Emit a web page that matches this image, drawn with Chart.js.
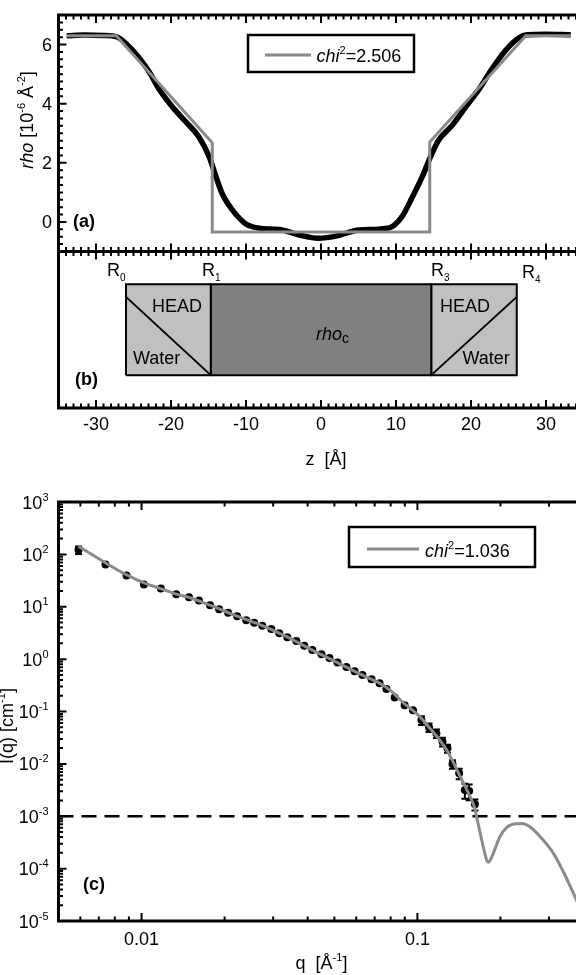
<!DOCTYPE html>
<html>
<head>
<meta charset="utf-8">
<script src="https://cdn.jsdelivr.net/npm/chart.js@4.4.0/dist/chart.umd.min.js"></script>
<style>
  html, body { margin: 0; padding: 0; background: #fff; overflow: hidden; }
  #wrap { position: relative; width: 576px; height: 975px; overflow: hidden; }
  canvas { position: absolute; left: 0; }
  #cA { top: 0; }
  #cB { top: 240px; }
  #cC { top: 480px; }
</style>
</head>
<body>
<div id="wrap">
  <canvas id="cA" width="600" height="262"></canvas>
  <canvas id="cB" width="600" height="240"></canvas>
  <canvas id="cC" width="600" height="495"></canvas>
</div>
<script>
(function() {
  'use strict';

  // (a) measured density profile
  var profileZ = [-33.9, -31.5, -29.0, -27.3, -25.1, -22.9, -21.6, -19.8, -18.0, -16.3, -14.9, -14.0,
    -13.2, -11.8, -10.0, -8.3, -5.2, -2.9, -0.3, 2.0, 5.1, 9.1, 10.8, 12.2, 13.5, 14.6, 15.7, 17.5,
    19.3, 21.1, 22.8, 24.6, 26.4, 27.5, 30.0, 33.3];
  var profileRho = [6.30, 6.32, 6.31, 6.27, 5.80, 5.07, 4.50, 3.89, 3.38, 2.88, 2.20, 1.53,
    0.97, 0.40, -0.07, -0.21, -0.27, -0.44, -0.55, -0.48, -0.27, -0.20, 0.18, 0.85, 1.53, 2.20, 2.77, 3.27,
    3.89, 4.50, 5.18, 5.80, 6.23, 6.33, 6.35, 6.33];

  // (a) step model, chi2 = 2.506
  var modelZ = [-33.9, -27.3, -14.5, -14.5, 14.5, 14.5, 27.3, 33.3];
  var modelRho = [6.3, 6.3, 2.68, -0.34, -0.34, 2.7, 6.3, 6.3];

  // (b) layer boundaries R0, R1, R3, R4
  var layerEdges = [-26.0, -14.7, 14.7, 26.1];
  var boxBottom = 2.1, boxTop = 7.9, slopeTop = 7.1;

  // (c) scattering data
  var qData = [0.00591, 0.0074, 0.00882, 0.0102, 0.01175, 0.01336, 0.01486, 0.01615, 0.01771, 0.0191,
    0.0206, 0.0222, 0.02395, 0.0256, 0.0274, 0.02953, 0.03156, 0.03376, 0.0364, 0.0389, 0.0416, 0.0449,
    0.048, 0.0513, 0.0553, 0.0592, 0.0632, 0.0682, 0.0729, 0.0772, 0.0827, 0.0899, 0.0964, 0.1034,
    0.1102, 0.1172, 0.1233, 0.1285, 0.134, 0.1417, 0.1486, 0.154, 0.1616];
  var iData = [122, 64, 39.6, 26.7, 22.4, 17.4, 15.2, 13.1, 10.7, 9.0,
    7.7, 6.6, 5.55, 4.97, 4.36, 3.74, 3.13, 2.63, 2.21, 1.81, 1.49, 1.245,
    1.045, 0.858, 0.704, 0.59, 0.495, 0.415, 0.348, 0.268, 0.186, 0.132, 0.106, 0.0685,
    0.0497, 0.0382, 0.0264, 0.0198, 0.0099, 0.0066, 0.00316, 0.00303, 0.00169];
  var iErr = [20, 0, 0, 0, 0, 0, 0, 0, 0, 0,
    0, 0, 0, 0, 0, 0, 0, 0, 0, 0, 0, 0,
    0, 0, 0, 0, 0, 0, 0, 0, 0, 0, 0, 0.013,
    0.009, 0.007, 0.005, 0.0035, 0.0018, 0.0015, 0.001, 0.001, 0.0004];

  // (c) model curve, chi2 = 1.036
  var qFit = [0.0059, 0.0074, 0.0088, 0.0102, 0.0118, 0.0134, 0.0149, 0.0177, 0.0222, 0.0274, 0.0338,
    0.0416, 0.0513, 0.0632, 0.0729, 0.0795, 0.0899, 0.0964, 0.1034, 0.1102, 0.1172, 0.1233, 0.1285,
    0.134, 0.1417, 0.1486, 0.1556, 0.1616, 0.1638, 0.1733, 0.1782, 0.1807, 0.1884, 0.199, 0.2109,
    0.2228, 0.2388, 0.2559, 0.2786, 0.3112, 0.3381, 0.3762, 0.40];
  var iFit = [143, 69, 41, 28.6, 22, 17.4, 15, 10.7, 6.6, 4.36, 2.63,
    1.49, 0.86, 0.495, 0.348, 0.256, 0.14, 0.104, 0.074, 0.05, 0.034, 0.024, 0.0175,
    0.0115, 0.0063, 0.0038, 0.0023, 0.0014, 0.001, 2.6e-4, 1.46e-4, 1.32e-4, 1.96e-4, 4.06e-4, 6.14e-4,
    7.1e-4, 7.3e-4, 6.3e-4, 4.06e-4, 1.96e-4, 8.7e-5, 2.6e-5, 1.3e-5];
  var cutoff = 1e-3;

  // tick labels
  var zTicks = [-30, -20, -10, 0, 10, 20, 30];
  var rhoTicks = [0, 2, 4, 6];
  var qTicks = [0.01, 0.1];
  var qTickText = ['0.01', '0.1'];
  var iExponents = [3, 2, 1, 0, -1, -2, -3, -4, -5];

  var FONT = '"Liberation Sans", Arial, Helvetica, sans-serif';
  var GREY = '#8a8a8a';

  function pairs(xs, ys) {
    return xs.map(function(x, i) { return { x: x, y: ys[i] }; });
  }

  function fontFor(kind) {
    if (kind === 'i') return 'italic 18px ' + FONT;
    if (kind === 'b') return 'bold 18px ' + FONT;
    if (kind === 'sup') return '11px ' + FONT;
    if (kind === 'sub') return '10px ' + FONT;
    if (kind === 'subc') return '14px ' + FONT;
    return '18px ' + FONT;
  }

  // parts: [[text, kind], ...]
  function drawRich(ctx, parts, x, y, align) {
    var widths = [], total = 0;
    parts.forEach(function(p) {
      ctx.font = fontFor(p[1]);
      var w = ctx.measureText(p[0]).width;
      widths.push(w);
      total += w;
    });
    var cx = align === 'center' ? x - total / 2 : (align === 'right' ? x - total : x);
    ctx.textAlign = 'left';
    ctx.textBaseline = 'alphabetic';
    parts.forEach(function(p, i) {
      ctx.font = fontFor(p[1]);
      var dy = 0;
      if (p[1] === 'sup') dy = -8;
      if (p[1] === 'sub') dy = 5;
      if (p[1] === 'subc') dy = 3;
      ctx.fillText(p[0], cx, y + dy);
      cx += widths[i];
    });
  }

  function drawTicks(ctx, a, scale, values, len, sides) {
    ctx.beginPath();
    values.forEach(function(v) {
      var p = scale.getPixelForValue(v);
      sides.forEach(function(s) {
        if (s === 'top') { ctx.moveTo(p, a.top); ctx.lineTo(p, a.top + len); }
        if (s === 'bottom') { ctx.moveTo(p, a.bottom); ctx.lineTo(p, a.bottom - len); }
        if (s === 'left') { ctx.moveTo(a.left, p); ctx.lineTo(a.left + len, p); }
      });
    });
    ctx.stroke();
  }

  function stepValues(min, max, step, skip) {
    var out = [];
    for (var v = min; v <= max + 1e-9; v += step) {
      var r = Math.round(v * 1000) / 1000;
      if (skip.indexOf(r) < 0) out.push(r);
    }
    return out;
  }

  function drawLegend(ctx, lg, off) {
    ctx.fillStyle = '#fff';
    ctx.fillRect(lg.box[0], lg.box[1] - off, lg.box[2], lg.box[3]);
    ctx.strokeStyle = '#000';
    ctx.lineWidth = 2.5;
    ctx.strokeRect(lg.box[0], lg.box[1] - off, lg.box[2], lg.box[3]);
    ctx.strokeStyle = GREY;
    ctx.lineWidth = 3;
    ctx.beginPath();
    ctx.moveTo(lg.line[0], lg.line[2] - off);
    ctx.lineTo(lg.line[1], lg.line[2] - off);
    ctx.stroke();
    ctx.fillStyle = '#000';
    drawRich(ctx, [['chi', 'i'], ['2', 'sup'], [lg.value, '']], lg.text[0], lg.text[1] - off, 'left');
  }

  function panelPlugin(cfg) {
    return {
      id: 'panel',
      afterDraw: function(chart) {
        var ctx = chart.ctx, a = chart.chartArea, xs = chart.scales.x, ys = chart.scales.y;
        var off = cfg.offsetY;
        ctx.save();
        ctx.strokeStyle = '#000';
        ctx.fillStyle = '#000';
        ctx.setLineDash([]);

        // inward tick marks
        ctx.lineWidth = 2;
        if (cfg.xTicks) {
          drawTicks(ctx, a, xs, cfg.xTicks.major, 8, cfg.xTicks.sides);
          drawTicks(ctx, a, xs, cfg.xTicks.minor, 4.5, cfg.xTicks.sides);
        }
        if (cfg.yTicks) {
          drawTicks(ctx, a, ys, cfg.yTicks.major, 8, cfg.yTicks.sides);
          drawTicks(ctx, a, ys, cfg.yTicks.minor, 4.5, cfg.yTicks.sides);
        }

        // frame
        ctx.lineWidth = 3;
        ctx.strokeRect(a.left, a.top, a.right - a.left, a.bottom - a.top);

        // tick labels
        if (cfg.xLabels) {
          ctx.font = fontFor('');
          ctx.textAlign = 'center';
          ctx.textBaseline = 'alphabetic';
          cfg.xLabels.values.forEach(function(v, i) {
            ctx.fillText(cfg.xLabels.text[i], xs.getPixelForValue(v), cfg.xLabels.y - off);
          });
        }
        if (cfg.yLabels) {
          ctx.font = fontFor('');
          ctx.textAlign = 'right';
          ctx.textBaseline = 'alphabetic';
          cfg.yLabels.values.forEach(function(v) {
            ctx.fillText(String(v), cfg.yLabels.right, ys.getPixelForValue(v) + 6.5);
          });
        }
        if (cfg.yLogLabels) {
          cfg.yLogLabels.exps.forEach(function(e) {
            drawRich(ctx, [['10', ''], [String(e), 'sup']], cfg.yLogLabels.right,
              ys.getPixelForValue(Math.pow(10, e)) + 6.5, 'right');
          });
        }

        // axis titles
        if (cfg.xTitle) {
          drawRich(ctx, cfg.xTitle.parts, cfg.xTitle.x, cfg.xTitle.y - off, 'center');
        }
        if (cfg.yTitle) {
          ctx.save();
          ctx.translate(cfg.yTitle.x, cfg.yTitle.y - off);
          ctx.rotate(-Math.PI / 2);
          drawRich(ctx, cfg.yTitle.parts, 0, 0, 'center');
          ctx.restore();
        }

        if (cfg.legend) drawLegend(ctx, cfg.legend, off);

        if (cfg.tag) {
          drawRich(ctx, [[cfg.tag.text, 'b']], cfg.tag.x, cfg.tag.y - off, 'left');
        }

        if (cfg.notes) {
          cfg.notes.forEach(function(n) {
            drawRich(ctx, n.parts, n.x, n.y - off, 'left');
          });
        }
        ctx.restore();
      }
    };
  }

  function chartOptions(xScale, yScale, pad) {
    return {
      responsive: false,
      animation: false,
      events: [],
      layout: { padding: pad },
      plugins: { legend: { display: false }, tooltip: { enabled: false } },
      scales: {
        x: Object.assign({ display: false }, xScale),
        y: Object.assign({ display: false }, yScale)
      }
    };
  }

  var zMinor = stepValues(-35, 35, 1, zTicks);

  // ---- panel (a)
  new Chart(document.getElementById('cA'), {
    type: 'scatter',
    data: {
      datasets: [{
        data: pairs(modelZ, modelRho),
        showLine: true,
        borderColor: GREY,
        borderWidth: 3,
        pointRadius: 0,
        order: 0
      }, {
        data: pairs(profileZ, profileRho),
        showLine: true,
        borderColor: '#000',
        borderWidth: 5.5,
        pointRadius: 0,
        cubicInterpolationMode: 'monotone',
        order: 1
      }]
    },
    options: chartOptions(
      { type: 'linear', min: -35, max: 35 },
      { type: 'linear', min: -1, max: 7 },
      { top: 15, left: 58.5, right: 16.5, bottom: 10.5 }
    ),
    plugins: [panelPlugin({
      offsetY: 0,
      xTicks: { major: zTicks, minor: zMinor, sides: ['top', 'bottom'] },
      yTicks: { major: rhoTicks, minor: stepValues(-1, 7, 0.25, rhoTicks), sides: ['left'] },
      yLabels: { values: rhoTicks, right: 52 },
      yTitle: { x: 33, y: 120, parts: [['rho', 'i'], [' [10', ''], ['-6', 'sup'], [' \u00c5', ''], ['-2', 'sup'], [']', '']] },
      legend: { box: [248, 35, 166, 37], line: [265, 311, 55], text: [316.5, 61.5], value: '=2.506' },
      tag: { text: '(a)', x: 73, y: 227 }
    })]
  });

  // ---- panel (b)
  function boxShape(z0, z1) {
    return [{ x: z0, y: boxBottom }, { x: z0, y: boxTop }, { x: z1, y: boxTop },
      { x: z1, y: boxBottom }, { x: z0, y: boxBottom }];
  }
  function boxSet(z0, z1, color) {
    return {
      data: boxShape(z0, z1), showLine: true, fill: 'shape', backgroundColor: color,
      borderColor: '#000', borderWidth: 2, pointRadius: 0, order: 1
    };
  }
  function edgeSet(points) {
    return { data: points, showLine: true, borderColor: '#000', borderWidth: 2, pointRadius: 0, order: 0 };
  }

  new Chart(document.getElementById('cB'), {
    type: 'scatter',
    data: {
      datasets: [
        boxSet(layerEdges[0], layerEdges[1], '#c0c0c0'),
        boxSet(layerEdges[1], layerEdges[2], '#808080'),
        boxSet(layerEdges[2], layerEdges[3], '#c0c0c0'),
        edgeSet([{ x: layerEdges[0], y: slopeTop }, { x: layerEdges[1], y: boxBottom }]),
        edgeSet([{ x: layerEdges[2], y: boxBottom }, { x: layerEdges[3], y: slopeTop }])
      ]
    },
    options: chartOptions(
      { type: 'linear', min: -35, max: 35 },
      { type: 'linear', min: 0, max: 10 },
      { top: 11.5, left: 58.5, right: 16.5, bottom: 72 }
    ),
    plugins: [panelPlugin({
      offsetY: 240,
      xTicks: { major: zTicks, minor: zMinor, sides: ['top', 'bottom'] },
      xLabels: { values: zTicks, text: zTicks.map(String), y: 429.5 },
      xTitle: { x: 326, y: 465, parts: [['z  [\u00c5]', '']] },
      tag: { text: '(b)', x: 75, y: 385 },
      notes: [
        { x: 107, y: 276, parts: [['R', ''], ['0', 'sub']] },
        { x: 202, y: 276, parts: [['R', ''], ['1', 'sub']] },
        { x: 431, y: 276, parts: [['R', ''], ['3', 'sub']] },
        { x: 522, y: 278, parts: [['R', ''], ['4', 'sub']] },
        { x: 152, y: 311.5, parts: [['HEAD', '']] },
        { x: 133, y: 364, parts: [['Water', '']] },
        { x: 316, y: 340, parts: [['rho', 'i'], ['c', 'subc']] },
        { x: 440, y: 311.5, parts: [['HEAD', '']] },
        { x: 462.5, y: 364, parts: [['Water', '']] }
      ]
    })]
  });

  // ---- panel (c)
  var qMinor = [0.006, 0.007, 0.008, 0.009, 0.02, 0.03, 0.04, 0.05, 0.06, 0.07, 0.08, 0.09, 0.2, 0.3];
  var iMajor = iExponents.map(function(e) { return Math.pow(10, e); });
  var iMinor = [];
  for (var e = -5; e <= 2; e++) {
    for (var m = 2; m <= 9; m++) iMinor.push(m * Math.pow(10, e));
  }

  var errorBars = {
    id: 'errorBars',
    afterDatasetDraw: function(chart, args) {
      if (args.index !== 1) return;
      var ctx = chart.ctx, xs = chart.scales.x, ys = chart.scales.y;
      ctx.save();
      ctx.strokeStyle = '#000';
      ctx.lineWidth = 2;
      qData.forEach(function(q, i) {
        var err = iErr[i];
        if (!err) return;
        var px = xs.getPixelForValue(q);
        var hi = ys.getPixelForValue(iData[i] + err);
        var lo = ys.getPixelForValue(Math.max(iData[i] - err, 1e-6));
        ctx.beginPath();
        ctx.moveTo(px, hi); ctx.lineTo(px, lo);
        ctx.moveTo(px - 3.5, hi); ctx.lineTo(px + 3.5, hi);
        ctx.moveTo(px - 3.5, lo); ctx.lineTo(px + 3.5, lo);
        ctx.stroke();
      });
      ctx.restore();
    }
  };

  new Chart(document.getElementById('cC'), {
    type: 'scatter',
    data: {
      datasets: [{
        data: pairs(qFit, iFit),
        showLine: true,
        borderColor: GREY,
        borderWidth: 3,
        pointRadius: 0,
        cubicInterpolationMode: 'monotone',
        order: 0
      }, {
        data: pairs(qData, iData),
        showLine: false,
        pointRadius: 4,
        pointBackgroundColor: '#000',
        pointBorderWidth: 0,
        order: 1
      }, {
        data: [{ x: 0.005, y: cutoff }, { x: 0.4, y: cutoff }],
        showLine: true,
        borderColor: '#000',
        borderWidth: 2.5,
        borderDash: [15, 8],
        pointRadius: 0,
        order: 2
      }]
    },
    options: chartOptions(
      { type: 'logarithmic', min: 0.005, max: 0.4 },
      { type: 'logarithmic', min: 1e-5, max: 1e3 },
      { top: 22, left: 58.5, right: 16.5, bottom: 54 }
    ),
    plugins: [errorBars, panelPlugin({
      offsetY: 480,
      xTicks: { major: qTicks, minor: qMinor, sides: ['top', 'bottom'] },
      yTicks: { major: iMajor, minor: iMinor, sides: ['left'] },
      xLabels: { values: qTicks, text: qTickText, y: 944.5 },
      yLogLabels: { exps: iExponents, right: 48.5 },
      xTitle: { x: 321.5, y: 969, parts: [['q  [\u00c5', ''], ['-1', 'sup'], [']', '']] },
      yTitle: { x: 12.7, y: 726, parts: [['I(q) [cm', ''], ['-1', 'sup'], [']', '']] },
      legend: { box: [349, 527, 186, 40], line: [367, 419, 549], text: [425, 556.5], value: '=1.036' },
      tag: { text: '(c)', x: 83, y: 890 }
    })]
  });
})();
</script>
</body>
</html>
